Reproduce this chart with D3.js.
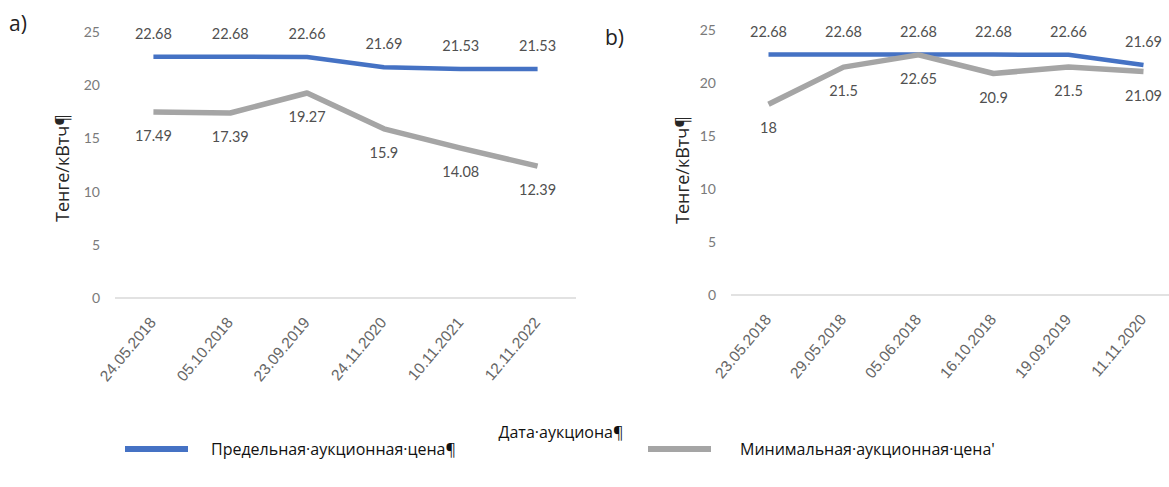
<!DOCTYPE html>
<html>
<head>
<meta charset="utf-8">
<script src="https://cdn.jsdelivr.net/npm/d3@7"></script>
<style>
  html, body { margin: 0; padding: 0; background: #fff; }
  svg { display: block; font-family: Lato, "Open Sans", sans-serif; }
</style>
</head>
<body>
<svg id="chart" width="1169" height="487"></svg>
<script>
// Auction dates and prices (tenge per kWh)
const datesA = ["24.05.2018", "05.10.2018", "23.09.2019", "24.11.2020", "10.11.2021", "12.11.2022"];
const limitA = [22.68, 22.68, 22.66, 21.69, 21.53, 21.53];
const minA   = [17.49, 17.39, 19.27, 15.9, 14.08, 12.39];

const datesB = ["23.05.2018", "29.05.2018", "05.06.2018", "16.10.2018", "19.09.2019", "11.11.2020"];
const limitB = [22.68, 22.68, 22.68, 22.68, 22.66, 21.69];
const minB   = [18, 21.5, 22.65, 20.9, 21.5, 21.09];

const yTicks = [0, 5, 10, 15, 20, 25];

const seriesNames = ["Предельная·аукционная·цена¶", "Минимальная·аукционная·цена'"];
const colors = ["#4472C4", "#A5A5A5"];
const widths = [4.5, 5.5];

const svg = d3.select("#chart");

// slight softening of the series strokes
const defs = svg.append("defs");
const soft = defs.append("filter").attr("id", "soft")
  .attr("filterUnits", "userSpaceOnUse")
  .attr("x", 0).attr("y", 0).attr("width", 1169).attr("height", 487);
soft.append("feGaussianBlur").attr("stdDeviation", 0.7);

function panel(opt) {
  const g = svg.append("g");
  const x = d3.scalePoint().domain(opt.dates).range(opt.xRange).padding(0.5);
  const y = d3.scaleLinear().domain([0, 25]).range(opt.yRange);

  // panel letter
  g.append("text").attr("x", opt.letter[0]).attr("y", opt.letter[1])
    .attr("font-family", "'Open Sans', sans-serif")
    .attr("font-size", 21).attr("fill", "#222").text(opt.name);

  // baseline
  g.append("line")
    .attr("x1", opt.xRange[0]).attr("x2", opt.baseEnd)
    .attr("y1", y(0)).attr("y2", y(0))
    .attr("stroke", "#d9d9d9").attr("stroke-width", 1.3);

  // y tick labels
  const ya = d3.axisLeft(y).tickValues(yTicks).tickSize(0).tickPadding(15);
  const yg = g.append("g").attr("transform", `translate(${opt.xRange[0]},0)`).call(ya);
  yg.select(".domain").remove();
  yg.selectAll("text").attr("font-size", 14).attr("fill", "#7a7a7a")
    .attr("font-family", "Lato, sans-serif");

  // x tick labels, rotated
  const xa = d3.axisBottom(x).tickSize(0).tickPadding(0);
  const xg = g.append("g").attr("transform", `translate(0,${y(0)})`).call(xa);
  xg.select(".domain").remove();
  xg.selectAll("text")
    .attr("font-size", 15.5).attr("fill", "#666")
    .attr("text-anchor", "end")
    .attr("dy", null).attr("y", 0)
    .attr("transform", "translate(3,25) rotate(-50)");

  // y axis title
  g.append("text")
    .attr("transform", `translate(${opt.yTitle[0]},${opt.yTitle[1]}) rotate(-90)`)
    .attr("text-anchor", "middle").attr("dy", "0.35em")
    .attr("font-family", "'Open Sans', sans-serif")
    .attr("font-size", 18).attr("fill", "#262626")
    .text("Тенге/кВтч¶");

  const line = d3.line().x((d, i) => x(opt.dates[i])).y(d => y(d));
  const series = [opt.limit, opt.min];

  series.forEach((vals, s) => {
    g.append("path").datum(vals)
      .attr("d", line)
      .attr("fill", "none")
      .attr("stroke", colors[s])
      .attr("stroke-width", widths[s])
      .attr("stroke-linejoin", "round")
      .attr("filter", "url(#soft)");
  });

  // data labels: limit price above, minimum price below
  series.forEach((vals, s) => {
    g.append("g").selectAll("text").data(vals).join("text")
      .attr("x", (d, i) => x(opt.dates[i]))
      .attr("y", d => y(d) + (s === 0 ? -23 : 24))
      .attr("dy", "0.35em")
      .attr("text-anchor", "middle")
      .attr("font-size", 14.5).attr("fill", "#505050")
      .text(d => d);
  });
}

panel({
  name: "a)", letter: [9, 31],
  dates: datesA, limit: limitA, min: minA,
  xRange: [115, 576], baseEnd: 576, yRange: [298, 32],
  yTitle: [63, 168]
});

panel({
  name: "b)", letter: [605, 45],
  dates: datesB, limit: limitB, min: minB,
  xRange: [731, 1181], baseEnd: 1169, yRange: [295, 30],
  yTitle: [683, 170]
});

// shared x axis title
svg.append("text").attr("x", 561).attr("y", 432).attr("dy", "0.35em")
  .attr("text-anchor", "middle")
  .attr("font-family", "'Open Sans', sans-serif")
  .attr("font-size", 16).attr("fill", "#111")
  .text("Дата·аукциона¶");

// legend
const legendItems = [
  { x: 125, tx: 211 },
  { x: 648, tx: 740 }
];
legendItems.forEach((it, s) => {
  svg.append("rect")
    .attr("x", it.x).attr("y", 446).attr("width", 63).attr("height", 6)
    .attr("fill", colors[s])
    .attr("filter", "url(#soft)");
  svg.append("text").attr("x", it.tx).attr("y", 449).attr("dy", "0.35em")
    .attr("font-family", "'Open Sans', sans-serif")
    .attr("font-size", 16).attr("fill", "#111")
    .text(seriesNames[s]);
});
</script>
</body>
</html>
